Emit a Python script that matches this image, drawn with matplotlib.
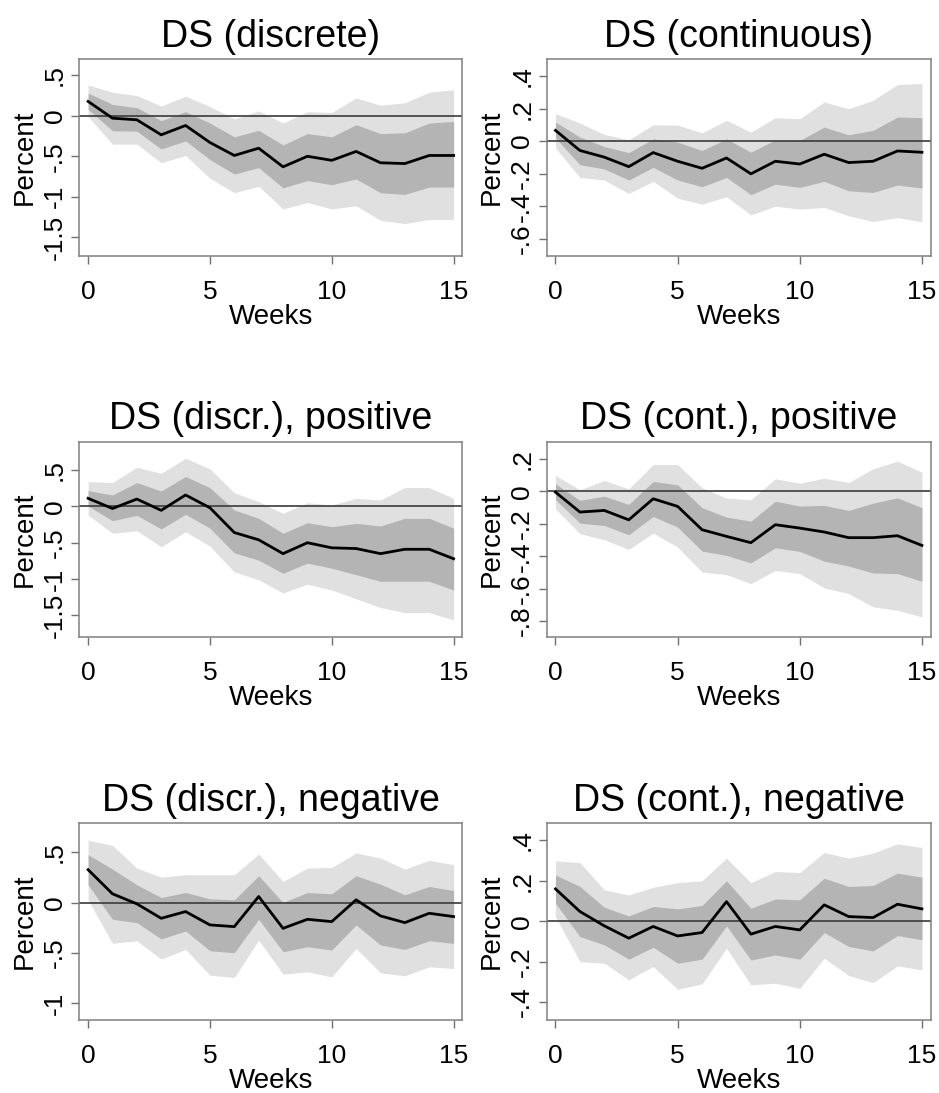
import matplotlib
matplotlib.use("Agg")
import matplotlib.pyplot as plt
import numpy as np

plt.rcParams["font.family"] = ["Liberation Sans", "DejaVu Sans"]

weeks = np.arange(16)

# ── DS (discrete) ────────────────────────────────────────────
disc_irf  = [0.177, -0.03, -0.05, -0.235, -0.12, -0.33, -0.49, -0.40, -0.63, -0.50, -0.55, -0.44, -0.58, -0.59, -0.49, -0.49]
disc_hi68 = [0.28, 0.14, 0.10, -0.06, 0.05, -0.09, -0.26, -0.18, -0.36, -0.22, -0.26, -0.11, -0.22, -0.21, -0.09, -0.07]
disc_lo68 = [0.08, -0.185, -0.19, -0.41, -0.31, -0.54, -0.72, -0.64, -0.89, -0.80, -0.85, -0.78, -0.95, -0.97, -0.88, -0.88]
disc_hi90 = [0.38, 0.29, 0.25, 0.12, 0.24, 0.115, -0.04, 0.06, -0.09, 0.05, 0.04, 0.22, 0.13, 0.16, 0.29, 0.32]
disc_lo90 = [-0.01, -0.35, -0.35, -0.58, -0.49, -0.77, -0.95, -0.87, -1.15, -1.07, -1.15, -1.11, -1.29, -1.33, -1.28, -1.28]

# ── DS (continuous) ──────────────────────────────────────────
cont_irf  = [0.066, -0.057, -0.098, -0.156, -0.07, -0.123, -0.166, -0.103, -0.20, -0.123, -0.14, -0.08, -0.131, -0.123, -0.06, -0.068]
cont_hi68 = [0.117, 0.025, -0.033, -0.07, 0.014, -0.006, -0.057, 0.014, -0.068, 0.008, 0.004, 0.086, 0.039, 0.066, 0.148, 0.144]
cont_lo68 = [0.02, -0.144, -0.17, -0.238, -0.16, -0.238, -0.279, -0.222, -0.328, -0.263, -0.283, -0.246, -0.304, -0.314, -0.269, -0.287]
cont_hi90 = [0.168, 0.111, 0.041, 0.008, 0.10, 0.098, 0.051, 0.127, 0.055, 0.144, 0.137, 0.24, 0.199, 0.25, 0.347, 0.353]
cont_lo90 = [-0.041, -0.222, -0.238, -0.32, -0.246, -0.349, -0.386, -0.34, -0.451, -0.398, -0.416, -0.406, -0.457, -0.492, -0.468, -0.494]

# ── DS (discr.), positive ────────────────────────────────────
dpos_irf  = [0.11, -0.03, 0.10, -0.055, 0.156, -0.02, -0.36, -0.46, -0.65, -0.50, -0.57, -0.58, -0.65, -0.59, -0.59, -0.72]
dpos_hi68 = [0.216, 0.156, 0.326, 0.21, 0.41, 0.257, -0.05, -0.165, -0.37, -0.225, -0.28, -0.234, -0.27, -0.165, -0.165, -0.30]
dpos_lo68 = [0.005, -0.197, -0.124, -0.31, -0.11, -0.30, -0.64, -0.74, -0.92, -0.78, -0.85, -0.94, -1.03, -1.03, -1.03, -1.15]
dpos_hi90 = [0.34, 0.326, 0.537, 0.454, 0.66, 0.514, 0.188, 0.064, -0.096, 0.05, 0.018, 0.11, 0.087, 0.26, 0.257, 0.11]
dpos_lo90 = [-0.12, -0.37, -0.335, -0.555, -0.35, -0.546, -0.90, -1.01, -1.19, -1.07, -1.15, -1.27, -1.39, -1.46, -1.46, -1.56]

# ── DS (cont.), positive ─────────────────────────────────────
cpos_irf  = [-0.004, -0.127, -0.117, -0.175, -0.045, -0.092, -0.236, -0.277, -0.316, -0.205, -0.226, -0.25, -0.285, -0.285, -0.273, -0.333]
cpos_hi68 = [0.047, -0.055, -0.029, -0.08, 0.062, 0.041, -0.10, -0.158, -0.183, -0.06, -0.09, -0.086, -0.117, -0.072, -0.039, -0.10]
cpos_lo68 = [-0.05, -0.195, -0.21, -0.267, -0.154, -0.22, -0.368, -0.394, -0.441, -0.347, -0.37, -0.43, -0.46, -0.503, -0.507, -0.554]
cpos_hi90 = [0.099, 0.01, 0.068, 0.016, 0.166, 0.166, 0.023, -0.041, -0.051, 0.078, 0.051, 0.082, 0.055, 0.14, 0.187, 0.119]
cpos_lo90 = [-0.107, -0.26, -0.298, -0.357, -0.257, -0.343, -0.497, -0.513, -0.569, -0.487, -0.507, -0.595, -0.63, -0.712, -0.733, -0.774]

# ── DS (discr.), negative ────────────────────────────────────
dneg_irf  = [0.327, 0.087, -0.013, -0.157, -0.09, -0.223, -0.24, 0.06, -0.257, -0.167, -0.19, 0.027, -0.133, -0.20, -0.107, -0.14]
dneg_hi68 = [0.477, 0.333, 0.177, 0.05, 0.10, 0.037, 0.027, 0.267, 0.0, 0.10, 0.087, 0.267, 0.183, 0.077, 0.16, 0.12]
dneg_lo68 = [0.177, -0.167, -0.20, -0.363, -0.283, -0.48, -0.50, -0.167, -0.49, -0.44, -0.473, -0.223, -0.423, -0.467, -0.38, -0.407]
dneg_hi90 = [0.62, 0.57, 0.343, 0.253, 0.277, 0.277, 0.277, 0.483, 0.21, 0.343, 0.35, 0.493, 0.443, 0.333, 0.42, 0.377]
dneg_lo90 = [0.027, -0.407, -0.38, -0.563, -0.467, -0.723, -0.747, -0.373, -0.713, -0.69, -0.74, -0.457, -0.70, -0.73, -0.64, -0.657]

# ── DS (cont.), negative ─────────────────────────────────────
cneg_irf  = [0.16, 0.048, -0.023, -0.084, -0.026, -0.073, -0.056, 0.097, -0.064, -0.026, -0.043, 0.081, 0.023, 0.018, 0.084, 0.061]
cneg_hi68 = [0.229, 0.172, 0.069, 0.026, 0.073, 0.061, 0.078, 0.20, 0.064, 0.11, 0.106, 0.213, 0.172, 0.177, 0.238, 0.218]
cneg_lo68 = [0.089, -0.076, -0.117, -0.188, -0.129, -0.208, -0.188, -0.023, -0.192, -0.167, -0.188, -0.056, -0.125, -0.147, -0.071, -0.092]
cneg_hi90 = [0.299, 0.29, 0.155, 0.13, 0.168, 0.191, 0.20, 0.312, 0.191, 0.246, 0.241, 0.34, 0.312, 0.337, 0.383, 0.365]
cneg_lo90 = [0.023, -0.20, -0.208, -0.29, -0.224, -0.337, -0.31, -0.134, -0.315, -0.307, -0.332, -0.183, -0.269, -0.304, -0.221, -0.241]

titles = ["DS (discrete)", "DS (continuous)",
          "DS (discr.), positive", "DS (cont.), positive",
          "DS (discr.), negative", "DS (cont.), negative"]
yticks = [[0.5, 0, -0.5, -1, -1.5], [0.4, 0.2, 0, -0.2, -0.4, -0.6],
          [0.5, 0, -0.5, -1, -1.5], [0.2, 0, -0.2, -0.4, -0.6, -0.8],
          [0.5, 0, -0.5, -1], [0.4, 0.2, 0, -0.2, -0.4]]
ylims = [(-1.73, 0.70), (-0.703, 0.503), (-1.80, 0.89),
         (-0.90, 0.308), (-1.17, 0.79), (-0.489, 0.485)]

panels = [
    (disc_irf, disc_lo68, disc_hi68, disc_lo90, disc_hi90),
    (cont_irf, cont_lo68, cont_hi68, cont_lo90, cont_hi90),
    (dpos_irf, dpos_lo68, dpos_hi68, dpos_lo90, dpos_hi90),
    (cpos_irf, cpos_lo68, cpos_hi68, cpos_lo90, cpos_hi90),
    (dneg_irf, dneg_lo68, dneg_hi68, dneg_lo90, dneg_hi90),
    (cneg_irf, cneg_lo68, cneg_hi68, cneg_lo90, cneg_hi90),
]


def stata_fmt(v):
    """Stata-style label: drop the leading zero (.5, -.2)."""
    if abs(v) < 1e-9:
        return "0"
    s = f"{v:g}"
    return s.replace("0.", ".")


fig = plt.figure(figsize=(9.39, 10.93), dpi=100)

lefts   = [0.0845, 0.5822]
widths  = [0.4079, 0.4090]
bottoms = [0.7658, 0.4169, 0.0668]
heights = [0.1802, 0.1791, 0.1800]

for i, (irf, lo68, hi68, lo90, hi90) in enumerate(panels):
    r, c = divmod(i, 2)
    ax = fig.add_axes([lefts[c], bottoms[r], widths[c], heights[r]])
    ax.fill_between(weeks, lo90, hi90, color="#e0e0e0", lw=0)
    ax.fill_between(weeks, lo68, hi68, color="#b4b4b4", lw=0)
    ax.axhline(0, color="#3a3a3a", lw=1.2)
    ax.plot(weeks, irf, color="black", lw=2.0)

    ax.set_xlim(-0.36, 15.36)
    ax.set_ylim(*ylims[i])
    ax.set_xticks([0, 5, 10, 15])
    ax.set_yticks(yticks[i])
    ax.set_yticklabels([stata_fmt(v) for v in yticks[i]], rotation=90, va="center")
    ax.tick_params(axis="both", labelsize=19, length=6, width=1, color="#707070")
    ax.tick_params(axis="x", pad=11)
    ax.tick_params(axis="y", pad=3)
    for sp in ax.spines.values():
        sp.set_color("#808080")
        sp.set_linewidth(1.1)

    ax.set_title(titles[i], fontsize=27, pad=9)
    ax.set_xlabel("Weeks", fontsize=20, labelpad=0)
    ax.set_ylabel("Percent", fontsize=20, labelpad=4)

fig.savefig("out.png", dpi=100)
plt.close(fig)
